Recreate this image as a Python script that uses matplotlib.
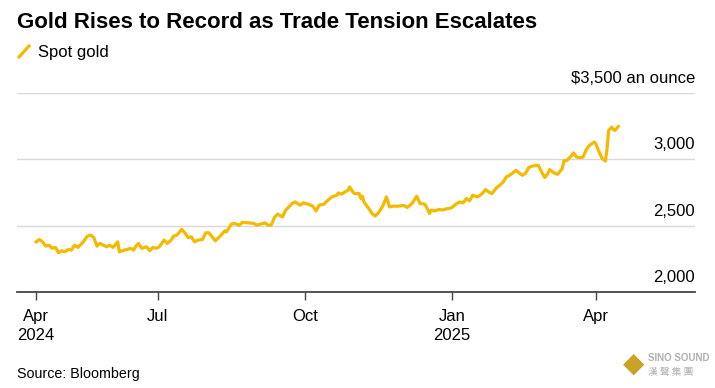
import matplotlib
matplotlib.use("Agg")
import matplotlib.pyplot as plt
import pandas as pd

plt.rcParams.update({
    "font.family": ["Liberation Sans", "DejaVu Sans"],
    "font.size": 12,
})

GOLD = "#F5BA00"

# spot gold, days since 2024-04-16, USD per ounce
START = "2024-04-16"
days = [0, 2, 4, 6, 8, 10, 12, 14, 16, 18, 20, 22, 24, 26, 29, 32, 34, 36, 38, 40,
        42, 44, 46, 48, 51, 52, 55, 57, 59, 61, 62, 64, 66, 69, 71, 73, 75, 77, 80, 82,
        84, 86, 88, 91, 93, 95, 97, 99, 101, 104, 106, 108, 110, 112, 115, 118, 119, 122, 124, 127,
        129, 133, 136, 138, 140, 143, 145, 147, 149, 151, 154, 156, 158, 160, 162, 165, 167, 170, 173, 175,
        177, 180, 182, 185, 188, 189, 191, 193, 195, 196, 198, 199, 202, 203, 204, 205, 208, 210, 212, 214,
        217, 219, 221, 223, 226, 230, 232, 235, 238, 240, 243, 244, 246, 247, 249, 252, 254, 257, 259, 260,
        263, 265, 267, 269, 271, 273, 276, 279, 281, 283, 285, 288, 290, 292, 294, 296, 298, 300, 302, 304,
        306, 308, 310, 313, 314, 316, 318, 320, 321, 324, 326, 329, 330, 332, 334, 336, 338, 340, 342, 344,
        346, 349, 350, 352, 354, 356, 357, 358, 360, 361, 362, 364]
price = [2378, 2396, 2378, 2346, 2353, 2329, 2336, 2296, 2311, 2303, 2321, 2316, 2353, 2336, 2371, 2421, 2429, 2411, 2346, 2366,
         2353, 2341, 2353, 2336, 2378, 2303, 2316, 2321, 2329, 2316, 2341, 2366, 2329, 2341, 2311, 2336, 2329, 2341, 2391, 2366,
         2386, 2421, 2429, 2472, 2446, 2411, 2416, 2378, 2391, 2396, 2446, 2446, 2416, 2386, 2421, 2461, 2453, 2511, 2517, 2504,
         2525, 2521, 2517, 2504, 2511, 2521, 2504, 2504, 2562, 2587, 2566, 2617, 2641, 2667, 2679, 2654, 2672, 2662, 2647, 2611,
         2654, 2662, 2687, 2717, 2729, 2747, 2737, 2754, 2767, 2792, 2754, 2742, 2742, 2705, 2722, 2679, 2629, 2592, 2572, 2596,
         2654, 2717, 2641, 2647, 2647, 2652, 2637, 2667, 2722, 2667, 2662, 2641, 2592, 2617, 2611, 2622, 2618, 2628, 2632, 2637,
         2667, 2679, 2672, 2705, 2687, 2729, 2717, 2742, 2772, 2754, 2742, 2787, 2805, 2829, 2867, 2880, 2897, 2917, 2897, 2880,
         2893, 2938, 2948, 2955, 2955, 2905, 2863, 2893, 2923, 2897, 2887, 2930, 2987, 2993, 3017, 3048, 3017, 3013, 3017, 3073,
         3105, 3130, 3118, 3055, 3005, 2987, 3081, 3218, 3243, 3224, 3218, 3248]

tick_dates = ["2024-04-16", "2024-07-01", "2024-10-01", "2025-01-01", "2025-04-01"]
tick_labels = ["Apr\n2024", "Jul", "Oct", "Jan\n2025", "Apr"]
y_ticks = [2000, 2500, 3000]
y_labels = ["2,000", "2,500", "3,000"]

dates = pd.Timestamp(START) + pd.to_timedelta(days, unit="D")

fig = plt.figure(figsize=(7.15, 3.88), dpi=100)
ax = fig.add_axes([17 / 715, 96 / 388, 678 / 715, 199 / 388])

ax.plot(dates, price, color=GOLD, lw=2.3, solid_joinstyle="round", zorder=3)

ax.set_xlim(pd.Timestamp(START) - pd.Timedelta(days=12), pd.Timestamp(START) + pd.Timedelta(days=412))
ax.set_ylim(2000, 3500)

for v in [2500, 3000, 3500]:
    ax.axhline(v, color="#d9d9d9", lw=1.0, zorder=1)

for s in ["top", "right", "left"]:
    ax.spines[s].set_visible(False)
ax.spines["bottom"].set_color("#444444")
ax.spines["bottom"].set_linewidth(1.3)

ax.set_xticks(pd.to_datetime(tick_dates))
ax.set_xticklabels(tick_labels, fontsize=12, linespacing=1.35)
ax.tick_params(axis="x", length=6, width=1, color="#444444", pad=6)
ax.set_yticks([])

for v, lab in zip(y_ticks, y_labels):
    ax.annotate(lab, xy=(1, v), xycoords=("axes fraction", "data"),
                xytext=(0, 5), textcoords="offset points",
                ha="right", va="bottom", fontsize=12)
ax.annotate("$3,500 an ounce", xy=(1, 3500), xycoords=("axes fraction", "data"),
            xytext=(0, 5), textcoords="offset points",
            ha="right", va="bottom", fontsize=12)

fig.text(17 / 715, 1 - 23 / 388, "Gold Rises to Record as Trade Tension Escalates",
         fontsize=16, fontweight="bold", va="center", ha="left")
fig.lines.append(plt.Line2D([19 / 715, 29 / 715], [1 - 57 / 388, 1 - 46 / 388],
                            transform=fig.transFigure, color=GOLD, lw=2.3))
fig.text(38 / 715, 1 - 52 / 388, "Spot gold", fontsize=12, va="center", ha="left")
fig.text(17 / 715, 1 - 374 / 388, "Source: Bloomberg", fontsize=10.3, va="center", ha="left")

# watermark
fig.text(648 / 715, 1 - 358 / 388, "SINO SOUND", fontsize=7, fontweight="bold",
         color="#b0b0b0", va="center", ha="left")
fig.text(648 / 715, 1 - 372 / 388, "漢 聲 集 團", fontsize=7,
         family=["Noto Sans CJK TC", "DejaVu Sans"], color="#b0b0b0", va="center", ha="left")
fig.text(634 / 715, 1 - 364 / 388, "◆", fontsize=20, color="#c9a227", va="center", ha="center",
         family=["DejaVu Sans"])

fig.savefig("out.png", dpi=100)
